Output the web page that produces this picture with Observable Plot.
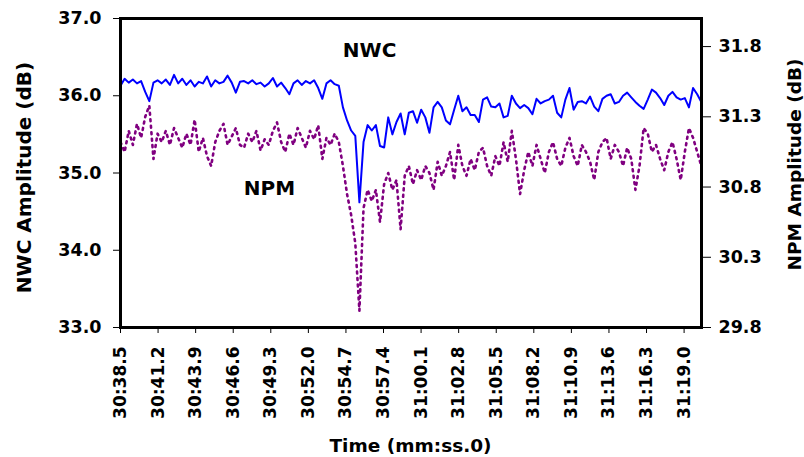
<!DOCTYPE html>
<html>
<head>
<meta charset="utf-8">
<script src="https://cdn.jsdelivr.net/npm/d3@7"></script>
<script src="https://cdn.jsdelivr.net/npm/@observablehq/plot@0.6"></script>
<style>
  html, body { margin: 0; padding: 0; background: #fff; }
</style>
</head>
<body>
<div id="chart"></div>
<script>
// Time axis (seconds after 30:00), sampled every dt seconds from t0
const t0 = 38.5;
const dt = 0.296;

// NWC amplitude (dB) – left axis
const nwc = [
  36.13,36.22,36.17,36.21,36.16,36.19,36.05,35.93,36.17,36.20,
  36.16,36.21,36.14,36.27,36.16,36.22,36.14,36.20,36.12,36.18,
  36.16,36.25,36.12,36.20,36.16,36.18,36.26,36.17,36.04,36.18,
  36.19,36.16,36.20,36.15,36.17,36.12,36.16,36.23,36.12,36.17,
  36.10,36.02,36.16,36.20,36.14,36.19,36.16,36.20,36.10,35.96,
  36.16,36.20,36.15,36.13,35.85,35.68,35.55,35.48,34.62,35.40,
  35.62,35.55,35.62,35.35,35.33,35.72,35.50,35.66,35.77,35.50,
  35.78,35.80,35.65,35.82,35.72,35.52,35.85,35.92,35.85,35.68,
  35.63,35.82,36.00,35.80,35.85,35.75,35.75,35.66,35.95,35.98,
  35.86,35.85,35.90,35.72,35.74,36.00,35.90,35.84,35.88,35.84,
  35.76,35.96,35.90,35.93,35.95,36.00,35.78,35.72,35.95,36.10,
  35.82,35.92,35.93,35.90,35.99,35.86,35.80,35.96,36.00,36.02,
  35.90,35.92,36.00,36.04,35.98,35.92,35.87,35.83,35.95,36.08,
  36.04,35.97,35.88,36.00,36.05,35.98,35.95,35.97,35.85,36.10,
  36.02,35.92
];

// NPM amplitude (dB) – right axis
const npm = [
  31.12,31.05,31.20,31.10,31.25,31.15,31.30,31.38,31.00,31.18,
  31.12,31.20,31.10,31.22,31.15,31.08,31.18,31.10,31.28,31.05,
  31.15,31.02,30.95,31.12,31.20,31.25,31.10,31.16,31.22,31.10,
  31.08,31.18,31.12,31.20,31.06,31.14,31.10,31.20,31.26,31.12,
  31.05,31.18,31.10,31.22,31.15,31.08,31.20,31.14,31.24,31.00,
  31.15,31.10,31.18,31.12,30.95,30.75,30.60,30.40,29.92,30.65,
  30.78,30.70,30.78,30.55,30.82,30.90,30.78,30.85,30.50,30.88,
  30.95,30.82,30.92,30.85,30.95,30.90,30.78,30.98,30.88,30.95,
  31.05,30.85,31.10,30.95,30.88,31.00,30.92,31.05,31.08,30.95,
  30.88,31.02,30.95,31.12,30.98,31.20,31.00,30.75,30.92,31.05,
  30.95,31.10,31.00,30.90,31.05,31.12,31.00,30.95,31.08,31.15,
  31.02,30.95,31.10,31.05,30.98,30.85,31.05,31.12,31.15,31.00,
  31.10,31.05,30.95,31.08,31.00,30.78,30.95,31.22,31.18,31.05,
  31.10,31.00,30.92,31.05,31.12,31.00,30.85,31.05,31.22,31.15,
  31.05,30.95
];

// Axis ticks
const nwcTicks = [33, 34, 35, 36, 37];
const npmTicks = [29.8, 30.3, 30.8, 31.3, 31.8];
const xTicks = [38.5, 41.2, 43.9, 46.6, 49.3, 52.0, 54.7, 57.4, 60.1, 62.8, 65.5, 68.2, 70.9, 73.6, 76.3, 79.0];
const xTickLabels = ["30:38.5","30:41.2","30:43.9","30:46.6","30:49.3","30:52.0","30:54.7","30:57.4",
                     "31:00.1","31:02.8","31:05.5","31:08.2","31:10.9","31:13.6","31:16.3","31:19.0"];

// Scale ranges
const nwcDomain = [33, 37];
const npmDomain = [29.8, 32.0];
const xDomain = [38.5, 80.25];

// Titles and in-plot series labels
const leftTitle = "NWC Amplitude (dB)";
const rightTitle = "NPM Amplitude (dB)";
const xTitle = "Time (mm:ss.0)";
const seriesLabels = [
  {name: "NWC", t: 56.4, v: 36.59},
  {name: "NPM", t: 49.2, v: 34.80}
];

// map NPM values onto the left (NWC) scale
const npmToLeft = v => nwcDomain[0] + (v - npmDomain[0]) * (nwcDomain[1] - nwcDomain[0]) / (npmDomain[1] - npmDomain[0]);
const leftToNpm = v => npmDomain[0] + (v - nwcDomain[0]) * (npmDomain[1] - npmDomain[0]) / (nwcDomain[1] - nwcDomain[0]);

const rows = nwc.map((v, i) => ({t: t0 + i * dt, nwc: v, npm: npmToLeft(npm[i])}));

const font = "DejaVu Sans";
const W = 804, H = 457, mL = 120, mR = 103, mT = 18, mB = 130;

const chart = Plot.plot({
  width: W,
  height: H,
  marginLeft: mL,
  marginRight: mR,
  marginTop: mT,
  marginBottom: mB,
  style: {fontFamily: font, fontWeight: "bold", background: "#fff", color: "#000"},
  x: {domain: xDomain},
  y: {domain: nwcDomain},
  marks: [
    Plot.axisY({ticks: nwcTicks, tickFormat: d => d.toFixed(1), tickSize: 7, tickPadding: 12,
                fontSize: 17.5, fontWeight: "bold", fontFamily: font, label: null, stroke: "#000"}),
    Plot.axisY({anchor: "right", ticks: npmTicks.map(npmToLeft), tickFormat: d => leftToNpm(d).toFixed(1),
                tickSize: 9, tickPadding: 8, fontSize: 17.5, fontWeight: "bold", fontFamily: font, label: null, stroke: "#000"}),
    Plot.axisX({ticks: xTicks, tickFormat: d => xTickLabels[xTicks.indexOf(d)], tickRotate: -90,
                tickSize: 6, tickPadding: 13, fontSize: 17, fontWeight: "bold", fontFamily: font, label: null, stroke: "#000"}),
    Plot.line(rows, {x: "t", y: "npm", stroke: "#800080", strokeWidth: 2.6, strokeDasharray: "2,4.5"}),
    Plot.line(rows, {x: "t", y: "nwc", stroke: "#0000ff", strokeWidth: 2}),
    Plot.frame({stroke: "#000", strokeWidth: 3}),
    Plot.text(seriesLabels, {x: "t", y: "v", text: "name", fontSize: 20, fontWeight: "bold", fontFamily: font, fill: "#000"})
  ]
});

// axis titles
const svg = d3.select(chart);
const cy = (mT + (H - mB)) / 2;
const addTitle = (txt, x, y, rot, size) => {
  svg.append("text")
    .attr("transform", `translate(${x},${y}) rotate(${rot})`)
    .attr("text-anchor", "middle")
    .attr("dominant-baseline", "central")
    .attr("font-family", font)
    .attr("font-weight", "bold")
    .attr("font-size", size)
    .attr("fill", "#000")
    .text(txt);
};
addTitle(leftTitle, 24, cy + 5, -90, 20);
addTitle(rightTitle, 794, cy - 8, -90, 18.5);
addTitle(xTitle, (mL + W - mR) / 2, H - 12, 0, 18.5);

document.getElementById("chart"). appendChild(chart);
</script>
</body>
</html>
